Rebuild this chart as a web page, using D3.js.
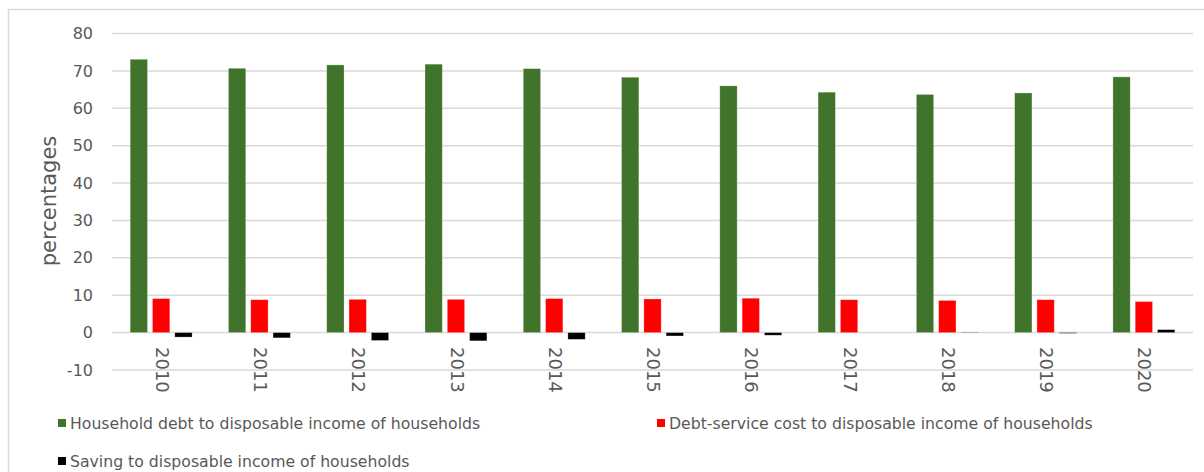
<!DOCTYPE html>
<html>
<head>
<meta charset="utf-8">
<script src="https://cdn.jsdelivr.net/npm/d3@7"></script>
<style>
  html, body { margin: 0; padding: 0; background: #fff; }
  svg { display: block; }
  text { font-family: "DejaVu Sans", "Noto Sans", sans-serif; fill: #595959; }
</style>
</head>
<body>
<svg id="chart" width="1204" height="472"></svg>
<script>
// Household indicators, % of disposable income
const years = ["2010","2011","2012","2013","2014","2015","2016","2017","2018","2019","2020"];
const debtRatio    = [73.1, 70.7, 71.6, 71.8, 70.6, 68.3, 66.0, 64.3, 63.7, 64.1, 68.4];
const debtService  = [9.1, 8.8, 8.9, 8.9, 9.1, 9.0, 9.2, 8.8, 8.6, 8.8, 8.3];
const savingRatio  = [-1.2, -1.4, -2.1, -2.2, -1.8, -0.9, -0.7, 0.0, -0.1, -0.2, 0.8];
const seriesNames  = [
  "Household debt to disposable income of households",
  "Debt-service cost to disposable income of households",
  "Saving to disposable income of households"
];
const seriesColors = ["#41742b", "#ff0000", "#000000"];
const yTicks = [-10, 0, 10, 20, 30, 40, 50, 60, 70, 80];

const series = [debtRatio, debtService, savingRatio];

const svg = d3.select("#chart");

// outer chart frame
svg.append("rect")
  .attr("x", 8.5).attr("y", 9.5)
  .attr("width", 1210).attr("height", 480)
  .attr("fill", "none").attr("stroke", "#d9d9d9").attr("stroke-width", 1.5);

const plot = { left: 112, right: 1193, top: 33.5, bottom: 370 };

const y = d3.scaleLinear().domain([-10, 80]).range([plot.bottom, plot.top]);
const x0 = d3.scaleBand().domain(years).range([plot.left, plot.right]).padding(0);
const bw = x0.bandwidth();
const x1 = d3.scaleBand().domain([0, 1, 2])
  .range([bw * 0.185, bw * 0.815]).paddingInner(0.224).paddingOuter(0);

// gridlines
svg.append("g")
  .selectAll("line")
  .data(yTicks)
  .join("line")
  .attr("x1", plot.left).attr("x2", plot.right)
  .attr("y1", d => y(d)).attr("y2", d => y(d))
  .attr("stroke", "#d9d9d9").attr("stroke-width", 1.5);

// y axis tick labels (plain hyphen for negatives)
const yAxis = d3.axisLeft(y).tickValues(yTicks).tickFormat(d => String(d))
  .tickSize(0).tickPadding(0);
const gy = svg.append("g").attr("transform", `translate(${93},0)`).call(yAxis);
gy.select(".domain").remove();
gy.selectAll("text")
  .attr("font-size", 16)
  .attr("font-family", "\"DejaVu Sans\", sans-serif")
  .attr("fill", "#595959");

// y axis title
svg.append("text")
  .attr("transform", `translate(49,${201}) rotate(-90)`)
  .attr("text-anchor", "middle")
  .attr("dy", "0.35em")
  .attr("font-size", 21)
  .text("percentages");

// bars
const groups = svg.append("g")
  .selectAll("g")
  .data(years)
  .join("g")
  .attr("transform", d => `translate(${x0(d)},0)`);

groups.selectAll("rect")
  .data((d, i) => series.map((s, k) => ({ k, v: s[i] })))
  .join("rect")
  .attr("x", d => x1(d.k))
  .attr("width", x1.bandwidth())
  .attr("y", d => y(Math.max(0, d.v)))
  .attr("height", d => Math.abs(y(d.v) - y(0)))
  .attr("fill", d => seriesColors[d.k])
  .attr("stroke", "rgba(255,255,255,0.35)")
  .attr("stroke-width", 0.75);

// category labels, rotated
const xAxis = d3.axisBottom(x0).tickSize(0).tickPadding(0);
const gx = svg.append("g").attr("transform", `translate(0,${347})`).call(xAxis);
gx.select(".domain").remove();
gx.selectAll("text")
  .attr("font-size", 18)
  .attr("font-family", "\"DejaVu Sans\", sans-serif")
  .attr("fill", "#595959")
  .attr("text-anchor", "start")
  .attr("transform", "rotate(90)")
  .attr("x", 0).attr("y", 0)
  .attr("dy", "0.3em");

// legend
const legendPos = [
  { x: 58, y: 423 },
  { x: 657, y: 423 },
  { x: 58, y: 461 }
];
const legend = svg.append("g")
  .selectAll("g")
  .data(seriesNames)
  .join("g")
  .attr("transform", (d, i) => `translate(${legendPos[i].x},${legendPos[i].y})`);
legend.append("rect")
  .attr("x", 0).attr("y", -4).attr("width", 8).attr("height", 8)
  .attr("fill", (d, i) => seriesColors[i]);
legend.append("text")
  .attr("x", 12).attr("y", 0).attr("dy", "0.35em")
  .attr("font-size", 15.7)
  .text(d => d);
</script>
</body>
</html>
